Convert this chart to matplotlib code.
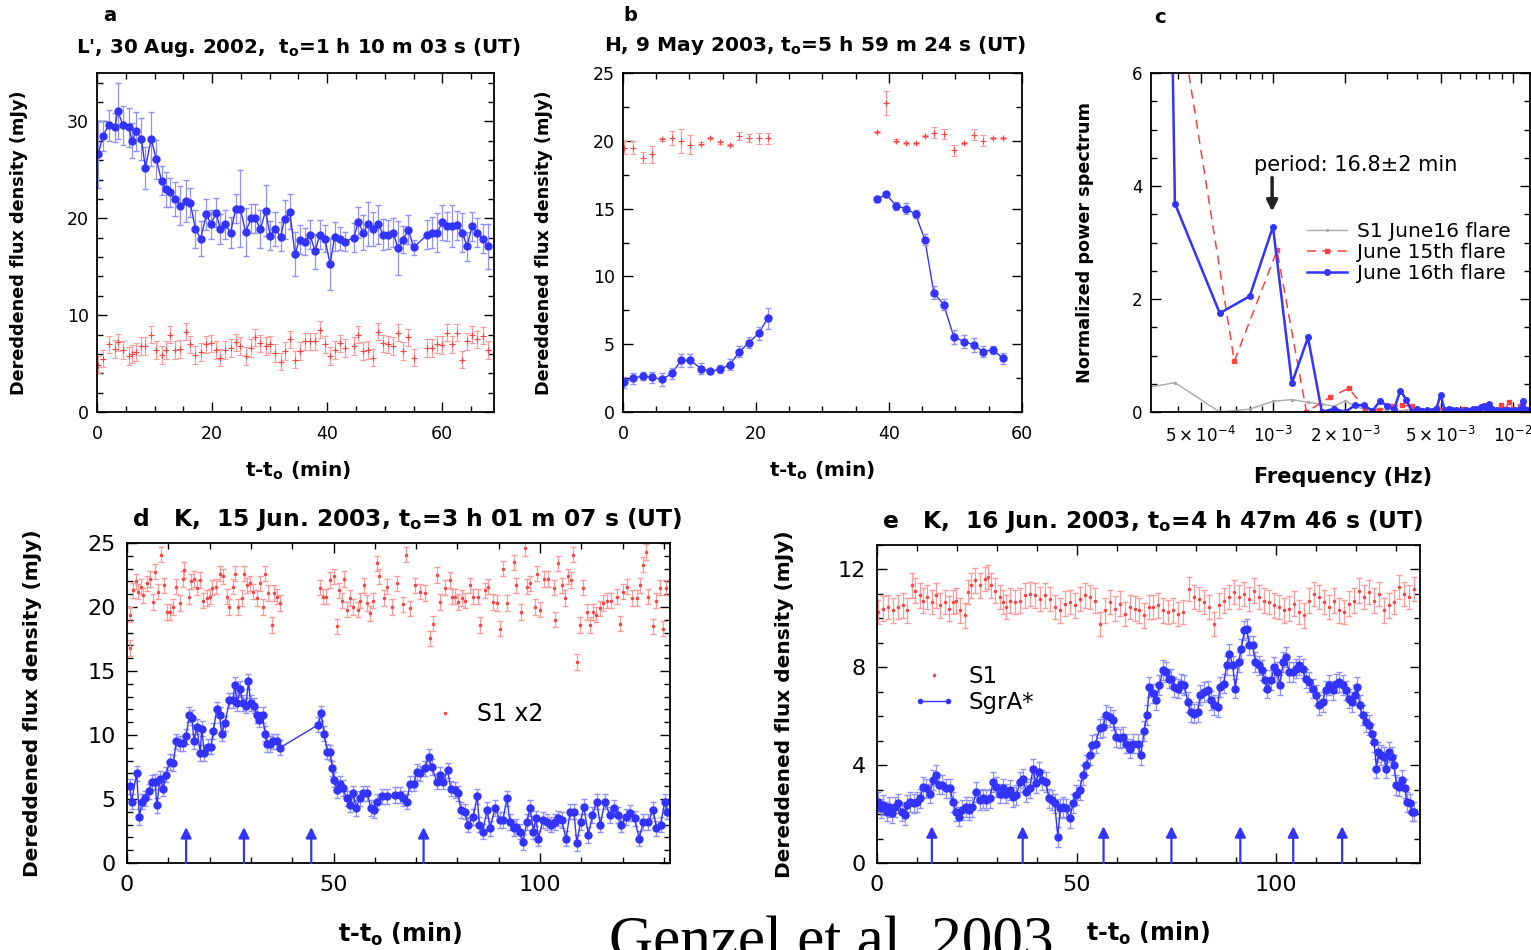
import numpy as np
import matplotlib
matplotlib.use('Agg')
import matplotlib.pyplot as plt
from matplotlib.ticker import MultipleLocator, FixedLocator, NullFormatter, LogLocator
from matplotlib.lines import Line2D
from matplotlib.legend_handler import HandlerLine2D

plt.rcParams['font.family'] = ['DejaVu Sans']
plt.rcParams['mathtext.default'] = 'regular'

BLUE = '#3333ff'
BLUE_ERR = '#9090ff'
RED = '#ff4040'
RED_ERR = '#ff9a9a'
GRAY = '#a8a8a8'

####################################################################################################
# DATA
####################################################################################################
# panel a: L', 30 Aug 2002
a_t = [0.2, 1.0, 2.0, 3.1, 3.6, 4.5, 5.5, 6.1, 6.8, 7.7,
       8.4, 9.4, 10.3, 11.2, 11.9, 12.6, 13.6, 14.5, 15.4, 16.2,
       17.1, 18.0, 19.0, 19.8, 20.7, 21.4, 22.3, 23.2, 24.1, 24.9,
       25.8, 26.8, 27.5, 28.4, 29.3, 30.1, 31.0, 31.9, 32.6, 33.5,
       34.4, 35.2, 36.1, 37.0, 37.9, 38.7, 39.6, 40.5, 41.3, 42.2,
       43.1, 44.6, 45.4, 46.3, 47.1, 48.0, 48.9, 49.7, 50.6, 51.5,
       52.3, 53.2, 54.1, 55.0, 57.4, 58.3, 59.1, 60.0, 60.9, 61.7,
       62.6, 63.5, 64.3, 65.2, 66.1, 67.0, 68.0]
a_sgra = [26.6, 28.5, 29.6, 29.4, 31.1, 29.6, 29.4, 28.0, 29.0, 28.2,
          25.2, 28.2, 26.1, 23.9, 23.0, 22.7, 22.0, 21.3, 21.8, 21.6,
          18.9, 17.9, 20.4, 19.4, 20.6, 18.9, 19.4, 18.5, 21.0, 21.0,
          18.6, 20.0, 20.0, 18.9, 20.8, 18.2, 18.9, 18.1, 19.9, 20.7,
          16.3, 17.8, 17.6, 18.3, 16.6, 18.3, 17.9, 15.3, 18.1, 17.9,
          17.6, 18.0, 19.6, 18.5, 19.4, 18.9, 19.4, 18.3, 18.3, 18.5,
          16.9, 17.8, 18.8, 17.0, 18.3, 18.5, 18.5, 19.6, 19.2, 19.2,
          19.3, 18.5, 17.1, 19.2, 18.5, 17.9, 17.1]
a_sgra_err = [3.5, 1.5, 1.6, 1.5, 2.9, 2.0, 2.0, 1.8, 2.0, 2.2,
              2.2, 2.8, 2.0, 1.5, 1.8, 1.5, 1.8, 2.0, 2.2, 1.5,
              2.0, 1.8, 1.6, 1.5, 1.5, 1.5, 1.5, 1.6, 1.5, 4.0,
              2.5, 1.5, 1.5, 2.0, 2.6, 1.5, 1.8, 1.5, 2.0, 1.8,
              2.3, 1.5, 1.4, 1.5, 1.8, 1.5, 1.4, 2.7, 1.5, 1.2,
              1.0, 1.5, 1.6, 1.8, 2.3, 1.8, 2.0, 1.6, 1.5, 1.5,
              2.8, 1.4, 1.5, 0.8, 1.5, 1.6, 2.0, 1.8, 1.5, 2.2,
              1.5, 2.0, 1.5, 1.5, 1.5, 1.5, 2.3]
a_s1 = [4.9, 5.5, 7.0, 6.5, 7.2, 6.4, 5.8, 6.0, 6.2, 6.8,
        6.8, 8.0, 6.4, 5.9, 6.4, 8.0, 6.4, 6.5, 8.3, 7.0,
        5.9, 6.2, 7.0, 7.1, 6.4, 5.6, 6.4, 6.6, 7.2, 6.8,
        5.8, 6.6, 7.7, 7.1, 6.8, 7.0, 6.1, 5.2, 6.3, 7.5,
        5.4, 6.3, 7.3, 7.3, 7.3, 8.5, 7.0, 5.8, 6.4, 7.1,
        6.6, 6.8, 8.0, 6.3, 6.4, 5.6, 8.3, 7.1, 7.0, 6.8,
        8.2, 6.3, 7.7, 5.6, 6.6, 6.6, 7.0, 6.9, 8.2, 7.0,
        8.2, 5.4, 7.3, 8.0, 7.5, 7.9, 6.4]
a_s1_err = 0.9

# panel b: H, 9 May 2003
b_t = [0.15, 1.5, 3.0, 4.4, 5.9, 7.35, 8.75, 10.15, 11.75, 13.1, 14.65, 16.1, 17.5, 18.9, 20.4, 21.75,
       38.15, 39.6, 41.1, 42.5, 44.0, 45.4, 46.75, 48.25, 49.75, 51.25, 52.75, 54.15, 55.65, 57.15]
b_sgra = [2.2, 2.5, 2.65, 2.55, 2.4, 2.85, 3.8, 3.8, 3.2, 3.0, 3.15, 3.5, 4.45, 5.1, 5.8, 6.9,
          15.7, 16.05, 15.2, 15.0, 14.6, 12.7, 8.8, 7.9, 5.55, 5.2, 4.95, 4.45, 4.6, 3.95]
b_sgra_err = [0.4, 0.4, 0.3, 0.4, 0.5, 0.4, 0.5, 0.5, 0.4, 0.2, 0.3, 0.4, 0.4, 0.4, 0.5, 0.8,
              0.2, 0.2, 0.3, 0.4, 0.3, 0.4, 0.5, 0.4, 0.5, 0.5, 0.5, 0.4, 0.3, 0.4]
b_s1 = [19.5, 19.5, 18.75, 19.0, 20.1, 20.2, 20.0, 19.7, 19.8, 20.2, 19.9, 19.7, 20.35, 20.2, 20.2, 20.2,
        20.65, 22.8, 20.0, 19.85, 19.85, 20.35, 20.6, 20.5, 19.3, 19.85, 20.45, 20.0, 20.2, 20.2]
b_s1_err = [0.5, 0.5, 0.4, 0.6, 0.1, 0.5, 0.9, 0.7, 0.1, 0.1, 0.1, 0.1, 0.3, 0.3, 0.4, 0.4,
            0.1, 0.9, 0.1, 0.1, 0.1, 0.1, 0.4, 0.4, 0.4, 0.1, 0.4, 0.4, 0.1, 0.1]

# panel c: power spectra (frequencies in mHz)
c_f16_mhz = [0.2, 0.39, 0.6, 0.8, 1.0, 1.2, 1.4, 1.6, 1.8, 2.0,
             2.2, 2.4, 2.6, 2.8, 3.0, 3.2, 3.4, 3.6, 3.8, 4.0,
             4.2, 4.4, 4.6, 4.8, 5.0, 5.2, 5.4, 5.6, 5.8, 6.0,
             6.2, 6.4, 6.6, 6.8, 7.0, 7.2, 7.4, 7.6, 7.8, 8.0,
             8.2, 8.4, 8.6, 8.8, 9.0, 9.2, 9.4, 9.6, 9.8, 10.0,
             10.2, 10.4, 10.6, 10.8, 11.0, 11.2, 11.4, 11.6, 11.8, 12.0]
c_p16 = [80.0, 3.69, 1.75, 2.05, 3.28, 0.51, 1.32, 0.0, 0.06, 0.0,
         0.12, 0.12, 0.02, 0.2, 0.1, 0.05, 0.38, 0.22, 0.0, 0.05,
         0.02, 0.03, 0.01, 0.05, 0.31, 0.03, 0.05, 0.04, 0.04, 0.02,
         0.0, 0.03, 0.02, 0.05, 0.06, 0.04, 0.08, 0.1, 0.06, 0.15,
         0.05, 0.02, 0.03, 0.01, 0.02, 0.04, 0.01, 0.03, 0.02, 0.01,
         0.03, 0.02, 0.04, 0.06, 0.2, 0.05, 0.03, 0.04, 0.02, 0.03]
c_s1 = [0.3, 0.52, 0.0, 0.05, 0.19, 0.22, 0.17, 0.14, 0.1, 0.2,
        0.1, 0.05, 0.04, 0.06, 0.03, 0.05, 0.02, 0.04, 0.03, 0.02,
        0.03, 0.02, 0.04, 0.02, 0.03, 0.02, 0.01, 0.03, 0.02, 0.04,
        0.02, 0.03, 0.02, 0.01, 0.02, 0.03, 0.02, 0.04, 0.02, 0.03,
        0.02, 0.01, 0.02, 0.03, 0.02, 0.01, 0.02, 0.03, 0.02, 0.02,
        0.03, 0.02, 0.01, 0.02, 0.03, 0.02, 0.01, 0.02, 0.02, 0.01]
c_f15_mhz = [0.35, 0.69, 1.04, 1.38, 1.73, 2.07, 2.42, 2.76, 3.11, 3.45,
             3.8, 4.14, 4.49, 4.83, 5.18, 5.52, 5.87, 6.21, 6.56, 6.9,
             7.25, 7.59, 7.94, 8.28, 8.63, 8.97, 9.32, 9.66, 10.0, 10.35,
             10.7, 11.04, 11.39, 11.73]
c_p15 = [8.8, 0.9, 2.86, 0.0, 0.26, 0.42, 0.07, 0.03, 0.1, 0.12,
         0.1, 0.03, 0.02, 0.07, 0.04, 0.02, 0.03, 0.06, 0.04, 0.05,
         0.03, 0.1, 0.08, 0.04, 0.03, 0.12, 0.05, 0.18, 0.05, 0.02,
         0.1, 0.15, 0.05, 0.03]
c_period_min = 16.8

# panel d: K, 15 Jun 2003
d_sgra_t = [0.6, 1.1, 2.3, 3.0, 3.6, 4.4, 5.2, 6.1, 6.8, 7.2,
            8.0, 8.8, 9.4, 10.3, 11.2, 11.9, 12.7, 13.5, 14.3, 15.1,
            15.7, 16.2, 16.9, 17.7, 18.1, 18.7, 19.5, 20.3, 20.9, 21.7,
            22.4, 22.9, 23.7, 24.8, 25.6, 26.1, 26.7, 27.4, 28.0, 28.8,
            29.4, 29.9, 30.8, 31.4, 32.0, 32.8, 33.4, 34.0, 34.6, 35.4,
            36.2, 37.0,
            46.3, 47.0, 47.7, 48.5, 49.2, 49.7, 50.2, 50.8, 51.6, 52.2,
            53.2, 54.0, 54.8, 55.4, 56.4, 57.2, 58.2, 59.0, 59.8, 60.5,
            61.7, 62.9,
            64.9, 66.1, 66.9, 67.7, 68.5, 69.5, 70.1, 70.9, 72.1, 73.0,
            73.8, 75.0, 75.8, 76.6, 77.6, 78.4, 79.4, 80.2, 80.8, 81.8,
            82.6, 83.8, 84.8, 85.3, 86.1, 87.2, 87.9, 89.1, 90.3, 91.0,
            92.0, 92.7, 93.7, 94.3, 95.2, 95.9, 96.8, 97.6, 98.4, 99.0,
            99.6, 100.7, 101.6, 102.6, 103.6, 104.4, 105.2, 106.3, 107.3, 108.2,
            108.9, 109.8, 110.6, 111.7, 112.7, 113.7, 114.6, 115.7, 116.9, 117.9,
            118.9, 119.7, 120.8, 121.9, 122.9, 124.0, 125.0, 126.2, 127.4, 128.2,
            129.2, 130.2, 130.8]
d_sgra = [6.0, 4.8, 7.0, 3.6, 4.8, 5.05, 5.6, 6.3, 6.35, 4.5,
          6.6, 5.8, 6.9, 7.9, 7.8, 9.5, 9.35, 9.35, 9.9, 11.6,
          11.35, 9.5, 10.65, 8.6, 10.5, 8.6, 9.1, 9.1, 10.3, 12.0,
          11.55, 10.1, 10.9, 12.7, 12.7, 13.9, 12.5, 13.6, 12.5, 12.3,
          14.2, 12.5, 12.3, 11.55, 11.2, 11.55, 10.1, 9.3, 9.3, 9.5,
          9.5, 9.0,
          10.8, 11.7, 10.1, 8.7, 8.65, 7.4, 6.5, 5.7, 6.2, 5.85,
          5.05, 4.55, 5.45, 4.3, 5.05, 5.45, 5.45, 4.3, 4.15, 4.8,
          5.2, 5.2,
          5.3, 5.3, 5.05, 4.8, 6.2, 6.2, 7.1, 7.0, 7.4, 8.3,
          7.5, 6.35, 6.9, 6.35, 7.25, 5.8, 5.7, 5.45, 4.15, 4.0,
          3.0, 3.6, 5.2, 3.0, 2.45, 4.15, 2.7, 4.3, 3.35, 3.35,
          5.05, 3.2, 2.7, 2.85, 2.45, 1.65, 3.2, 4.3, 2.45, 3.5,
          1.9, 3.35, 3.2, 3.0, 3.2, 3.5, 3.35, 1.9, 4.0, 4.0,
          1.55, 3.2, 4.4, 2.2, 3.75, 4.8, 3.0, 4.8, 3.75, 4.3,
          3.75, 3.0, 3.6, 3.9, 3.5, 1.9, 3.2, 3.2, 4.15, 2.7,
          3.0, 4.8, 4.0]
d_sgra_err = 0.6
d_s1_t = [0.6, 0.7, 1.5, 2.2, 2.7, 3.3, 3.9, 4.8, 5.6, 6.2,
          6.8, 7.6, 8.1, 9.0, 9.6, 10.4, 11.1, 11.9, 12.7, 13.5,
          13.9, 14.9, 15.4, 16.1, 16.9, 17.7, 18.5, 19.3, 20.1, 20.5,
          21.6, 22.5, 23.3, 24.1, 24.8, 25.6, 26.1, 26.9, 27.8, 28.3,
          29.0, 29.8, 30.6, 31.4, 32.2, 33.0, 33.4, 34.2, 35.0, 35.6,
          36.2, 37.0,
          46.6, 47.4, 48.2, 49.2, 50.1, 50.8, 51.4, 52.0, 52.5, 53.2,
          54.0, 54.8, 55.8, 56.4, 57.4, 58.0, 58.8, 59.5, 60.5, 61.1,
          62.1, 62.9, 64.1, 65.3,
          66.9, 67.6, 68.5, 69.7, 70.9, 72.2, 73.3, 74.2, 75.0, 75.8,
          77.0, 78.2, 78.6, 79.4, 80.2, 81.0, 81.8, 83.0, 83.8, 85.0,
          85.4, 86.7, 87.5, 88.7, 89.5, 90.3, 91.0, 92.0, 93.7, 94.1,
          95.3, 96.3, 96.8, 97.6, 98.8, 99.2, 100.0, 101.0, 102.0, 103.3,
          103.6, 104.4, 105.2, 106.0, 106.8, 107.6, 108.1, 108.9, 109.7, 110.3,
          111.3, 112.1, 112.9, 113.5, 114.5, 115.3, 116.1, 117.1, 118.6, 119.3,
          120.1, 121.1, 122.2, 123.4, 124.2, 125.0, 125.6, 126.2, 127.4, 128.2,
          129.0, 129.8, 130.6]
d_s1 = [16.8, 19.4, 21.3, 22.0, 21.2, 21.6, 20.9, 21.85, 22.2, 20.4,
        22.75, 21.2, 24.1, 21.7, 19.6, 19.6, 20.0, 21.6, 20.3, 22.2,
        22.9, 20.8, 22.0, 22.2, 21.5, 22.1, 20.5, 20.7, 20.8, 21.5,
        21.6, 22.6, 22.4, 20.8, 20.0, 21.6, 22.6, 20.0, 20.7, 22.6,
        21.7, 21.85, 21.2, 20.7, 21.85, 20.0, 22.6, 21.1, 18.6, 21.1,
        20.8, 20.3,
        21.5, 20.8, 20.8, 22.1, 22.4, 18.5, 21.3, 20.5, 22.2, 19.8,
        20.7, 20.0, 19.8, 20.5, 21.7, 20.3, 19.5, 20.5, 23.4, 22.4,
        20.7, 21.6, 20.0, 21.85,
        20.2, 24.1, 19.9, 21.7, 21.2, 21.1, 17.55, 18.7, 22.5, 20.4,
        21.5, 22.1, 20.8, 20.8, 20.4, 20.7, 20.5, 21.7, 20.8, 20.8,
        18.6, 21.3, 21.6, 20.4, 20.3, 18.3, 23.0, 20.3, 23.5, 21.7,
        19.6, 24.6, 21.6, 21.85, 20.0, 22.6, 19.8, 22.2, 22.2, 21.5,
        19.0, 23.4, 21.7, 20.7, 22.4, 22.1, 24.1, 15.7, 18.6, 21.5,
        19.6, 18.6, 19.6, 19.4, 19.9, 20.3, 20.5, 20.5, 20.8, 18.7,
        21.2, 21.6, 20.7, 20.7, 21.7, 23.3, 24.3, 20.8, 18.5, 20.5,
        21.5, 18.3, 21.5]
d_s1_err = 0.6
d_arrows = [14.3, 28.3, 44.6, 71.8]

# panel e: K, 16 Jun 2003
e_sgra_t = [0.3, 0.9, 1.6, 2.4, 3.1, 3.7, 4.5, 5.3, 6.2, 7.0,
            7.6, 8.4, 9.25, 10.1, 10.75, 11.6, 12.4, 13.25, 14.1, 14.75,
            15.6, 16.4, 17.25, 18.25, 19.1, 19.75, 20.6, 21.4, 22.25, 23.1,
            23.9, 24.9, 25.75, 26.6, 27.4, 28.25, 29.1, 29.9, 30.75, 31.6,
            32.4, 33.25, 34.1, 34.9, 35.9, 36.6, 37.4, 38.25, 39.1, 39.75,
            40.6, 41.4, 42.25, 43.1, 43.9, 44.5, 45.3, 45.9, 46.6, 47.4,
            48.25, 49.1, 49.9, 50.75, 51.6, 52.4, 53.25, 53.9, 54.75, 55.75,
            56.6, 57.4, 58.25, 59.1, 59.9, 60.75, 61.6, 62.4, 63.25, 64.1,
            65.3, 66.1, 66.9, 67.6,
            68.25, 69.1, 69.9, 70.75, 71.6, 72.4, 73.1, 73.7, 74.5, 75.3,
            76.2, 77.0, 77.8, 78.7, 79.5, 80.3, 81.0, 81.8, 82.8, 83.6,
            84.5, 85.3, 85.9, 86.8, 87.6, 88.25, 89.1, 89.75, 90.6, 91.25,
            92.0, 92.6, 93.25, 94.1, 94.75, 95.6, 96.4, 97.25, 97.8, 98.7,
            99.5, 100.3, 100.9, 101.75, 102.4, 103.25, 104.1, 104.9, 105.75, 106.6,
            107.4, 108.25, 109.1, 109.9, 110.75, 111.6, 112.4, 113.25, 114.1, 114.9,
            115.75, 116.6, 117.4, 118.25, 118.9, 119.75, 120.3, 120.9, 121.6, 122.4,
            123.25, 123.9, 124.5, 125.1, 125.6, 126.2, 127.0, 127.6, 128.25, 128.9,
            129.5, 130.1, 130.75, 131.6, 132.2, 132.75, 133.4, 134.0, 134.5]
e_sgra = [2.5, 2.23, 2.37, 2.1, 2.3, 2.03, 2.3, 2.44, 2.1, 1.96,
          2.37, 2.5, 2.44, 2.5, 2.64, 3.1, 3.05, 2.84, 3.4, 3.6,
          3.2, 3.2, 3.05, 3.05, 2.5, 2.1, 1.9, 2.16, 2.3, 2.16,
          2.3, 2.9, 2.57, 2.64, 2.57, 2.64, 3.32, 3.1, 2.84, 3.05,
          2.84, 2.98, 2.7, 2.78, 3.32, 3.45, 2.9, 3.05, 3.86, 3.25,
          3.73, 3.39, 3.32, 2.64, 2.57, 2.44, 1.07, 2.23, 2.3, 2.23,
          1.82, 2.44, 2.78, 2.98, 3.59, 4.0, 4.41, 4.82, 4.88, 5.5,
          5.56, 6.04, 5.97, 5.84, 5.16, 5.09, 5.16, 4.88, 4.68, 4.88,
          4.88, 4.41, 5.4, 6.04,
          7.2, 6.93, 6.65, 7.27, 7.88, 7.81, 7.54, 7.54, 7.2, 7.13,
          7.33, 7.27, 6.59, 6.18, 6.11, 6.18, 6.86, 6.99, 7.06, 6.65,
          6.45, 6.38, 7.2, 7.33, 8.08, 8.56, 8.08, 7.13, 8.22, 8.76,
          9.51, 9.58, 8.9, 8.9, 8.22, 8.08, 7.88, 7.47, 7.13, 7.47,
          8.01, 7.81, 7.27, 8.22, 8.42, 7.81, 7.81, 7.95, 8.08, 7.95,
          7.54, 7.4, 7.13, 6.86, 6.45, 6.59, 7.06, 7.27, 7.06, 7.33,
          7.4, 7.27, 7.06, 6.72, 6.59, 6.86, 7.2, 6.45, 6.04, 5.77,
          5.63, 5.29, 4.95, 3.86, 4.54, 4.41, 4.34, 3.86, 4.54, 4.34,
          4.0, 3.18, 3.12, 3.39, 3.05, 2.5, 2.44, 2.1, 2.1]
e_sgra_err = 0.4
e_s1_t = [0.33, 1.58, 2.83, 4.08, 5.33, 6.58, 7.58, 8.67, 9.5, 10.75,
          11.58, 12.58, 13.67, 14.75, 15.75, 17.0, 18.08, 19.08, 19.92, 20.75,
          22.0, 22.83, 23.67, 24.5, 25.75, 27.0, 27.83, 28.67, 29.5, 30.75,
          31.58, 32.42, 33.25, 34.5, 35.75, 37.0, 38.25, 39.5, 40.75, 42.0,
          43.25, 44.5, 45.75, 47.0, 48.25, 49.5, 50.75, 52.0, 53.25, 54.5,
          55.75, 57.0, 58.25, 59.5, 60.75, 62.0, 63.25, 64.5, 65.75, 67.0,
          68.08,
          69.1, 70.3, 71.6, 72.8, 74.1, 75.3, 76.6, 78.25, 79.5, 80.75,
          82.0, 83.25, 84.5, 85.75, 87.0, 88.25, 89.5, 90.75, 92.0, 93.25,
          94.5, 95.75, 97.0, 98.25, 99.5, 100.75, 102.0, 103.25, 104.5, 105.75,
          107.0, 108.25, 109.5, 110.75, 112.0, 113.25, 114.5, 115.75, 117.0, 118.25,
          119.5, 120.75, 122.0, 123.25, 124.5, 125.75, 127.0, 128.25, 129.5, 130.75,
          132.0, 133.25, 134.5]
e_s1 = [10.26, 10.4, 10.46, 10.33, 10.46, 10.53, 10.33, 11.35, 11.14, 10.94,
        10.73, 10.87, 10.67, 10.94, 10.53, 10.67, 10.4, 10.67, 10.73, 10.33,
        10.12, 11.07, 11.35, 11.55, 11.35, 11.62, 11.69, 11.35, 11.14, 10.87,
        10.67, 10.46, 10.73, 10.67, 10.73, 10.94, 11.0, 10.94, 10.8, 10.94,
        10.8, 10.46, 10.33, 10.6, 10.67, 10.53, 10.8, 10.94, 10.87, 10.73,
        9.78, 10.33, 10.67, 10.4, 10.6, 10.19, 10.46, 10.4, 10.33, 10.12,
        10.46,
        10.46, 10.53, 10.33, 10.26, 10.33, 10.19, 10.26, 11.21, 10.87, 10.8,
        10.67, 10.46, 9.78, 10.53, 10.73, 10.87, 11.07, 10.87, 11.0, 10.8,
        11.14, 10.87, 10.73, 10.67, 10.53, 10.46, 10.33, 10.4, 10.6, 10.26,
        10.12, 10.73, 11.0, 10.87, 10.67, 10.46, 10.73, 10.33, 10.26, 10.6,
        10.73, 11.14, 10.87, 11.07, 10.73, 11.0, 10.33, 10.53, 10.67, 11.28,
        11.0, 10.87, 11.21]
e_s1_err = 0.5
e_arrows = [13.75, 36.5, 56.75, 73.75, 91.0, 104.25, 116.5]


####################################################################################################
# HELPERS
####################################################################################################
def style_axes(ax, xmaj, xmin, ymaj, ymin, fs, xpad, ypad):
    if xmaj is not None:
        ax.xaxis.set_major_locator(MultipleLocator(xmaj))
        ax.xaxis.set_minor_locator(MultipleLocator(xmin))
    ax.yaxis.set_major_locator(MultipleLocator(ymaj))
    ax.yaxis.set_minor_locator(MultipleLocator(ymin))
    ax.tick_params(which='both', direction='in', top=True, right=True, labelsize=fs, width=1)
    ax.tick_params(which='major', length=7)
    ax.tick_params(which='minor', length=4)
    ax.tick_params(axis='x', pad=xpad)
    ax.tick_params(axis='y', pad=ypad)
    for s in ax.spines.values():
        s.set_linewidth(1.3)


def break_gaps(t, y, gap):
    t = np.asarray(t, float)
    y = np.asarray(y, float)
    idx = np.where(np.diff(t) > gap)[0] + 1
    return np.insert(t, idx, np.nan), np.insert(y, idx, np.nan)


def draw_arrows(ax, times, height):
    for t in times:
        ax.annotate('', xy=(t, height), xytext=(t, 0),
                    arrowprops=dict(arrowstyle='-|>', color=BLUE, lw=1.6, mutation_scale=16,
                                    shrinkA=0, shrinkB=0))


LBL = dict(fontweight='bold')

####################################################################################################
# FIGURE
####################################################################################################
fig = plt.figure(figsize=(15.31, 9.5), dpi=100)

ax_a = fig.add_axes([0.0634, 0.5663, 0.2593, 0.3568])
ax_b = fig.add_axes([0.4069, 0.5663, 0.2606, 0.3568])
ax_c = fig.add_axes([0.7518, 0.5663, 0.2475, 0.3568])
ax_d = fig.add_axes([0.0830, 0.0916, 0.3547, 0.3368])
ax_e = fig.add_axes([0.5728, 0.0916, 0.3547, 0.3347])

# ---------------- panel a
ax_a.errorbar(a_t, a_s1, yerr=a_s1_err, fmt='+', color=RED, ecolor=RED_ERR, ms=4,
              elinewidth=0.9, capsize=2, mew=0.8)
ax_a.errorbar(a_t, a_sgra, yerr=a_sgra_err, fmt='o-', color=BLUE, ecolor=BLUE_ERR, ms=5,
              lw=1.0, elinewidth=0.9, capsize=2.5)
ax_a.set_xlim(0, 69)
ax_a.set_ylim(0, 35)
style_axes(ax_a, 20, 5, 10, 2, 12.5, 9, 6)
ax_a.set_ylabel('Dereddened flux density (mJy)', fontsize=12.7, **LBL)
ax_a.yaxis.set_label_coords(-0.175, 0.5)
ax_a.set_xlabel('t-t$_o$ (min)', fontsize=14.5, **LBL)
ax_a.xaxis.set_label_coords(0.506, -0.14)
ax_a.text(0.506, 1.075, "L', 30 Aug. 2002,  t$_o$=1 h 10 m 03 s (UT)", transform=ax_a.transAxes,
          ha='center', va='center', fontsize=14.3, **LBL)

# ---------------- panel b
ax_b.errorbar(b_t, b_s1, yerr=b_s1_err, fmt='+', color=RED, ecolor=RED_ERR, ms=4,
              elinewidth=0.9, capsize=2, mew=0.8)
bt_line, bs_line = break_gaps(b_t, b_sgra, 8)
ax_b.plot(bt_line, bs_line, '-', color=BLUE, lw=1.0)
ax_b.errorbar(b_t, b_sgra, yerr=b_sgra_err, fmt='o', color=BLUE, ecolor=BLUE_ERR, ms=5,
              elinewidth=0.9, capsize=2.5)
ax_b.set_xlim(0, 60)
ax_b.set_ylim(0, 25)
style_axes(ax_b, 20, 5, 5, 2.5, 12.5, 9, 6)
ax_b.set_ylabel('Dereddened flux density (mJy)', fontsize=12.7, **LBL)
ax_b.yaxis.set_label_coords(-0.175, 0.5)
ax_b.set_xlabel('t-t$_o$ (min)', fontsize=14.5, **LBL)
ax_b.xaxis.set_label_coords(0.5, -0.14)
ax_b.text(0.48, 1.08, "H, 9 May 2003, t$_o$=5 h 59 m 24 s (UT)", transform=ax_b.transAxes,
          ha='center', va='center', fontsize=14.5, **LBL)

# ---------------- panel c
f16 = np.asarray(c_f16_mhz) * 1e-3
f15 = np.asarray(c_f15_mhz) * 1e-3
ax_c.plot(f16, c_s1, '-', color=GRAY, lw=1.0, marker='.', ms=3, label='S1 June16 flare')
ax_c.plot(f15, c_p15, '--', color=RED, lw=1.1, marker='s', ms=3, dashes=(6, 4),
          label='June 15th flare')
ax_c.plot(f16, c_p16, '-', color=BLUE, lw=1.8, marker='o', ms=4, label='June 16th flare')
ax_c.set_xscale('log')
ax_c.set_xlim(3.1e-4, 1.18e-2)
ax_c.set_ylim(0, 6)
style_axes(ax_c, None, None, 2, 0.5, 12, 10, 6)
ax_c.xaxis.set_major_locator(FixedLocator([5e-4, 1e-3, 2e-3, 5e-3, 1e-2]))
ax_c.set_xticklabels([r'$5\times10^{-4}$', r'$10^{-3}$', r'$2\times10^{-3}$',
                      r'$5\times10^{-3}$', r'$10^{-2}$'])
ax_c.xaxis.set_minor_locator(LogLocator(base=10, subs=np.arange(1, 10)))
ax_c.xaxis.set_minor_formatter(NullFormatter())
ax_c.set_ylabel('Normalized power spectrum', fontsize=12.7, **LBL)
ax_c.yaxis.set_label_coords(-0.15, 0.5)
ax_c.set_xlabel('Frequency (Hz)', fontsize=15, **LBL)
ax_c.xaxis.set_label_coords(0.507, -0.162)
f_period = 1.0 / (c_period_min * 60.0)
ax_c.annotate('', xy=(f_period, 3.55), xytext=(f_period, 4.15),
              arrowprops=dict(arrowstyle='-|>', color='#222222', lw=2.5, mutation_scale=16,
                              shrinkA=0, shrinkB=0))
ax_c.text(0.54, 0.728, 'period: 16.8±2 min', transform=ax_c.transAxes, ha='center',
          va='center', fontsize=15)
ax_c.legend(loc='upper left', bbox_to_anchor=(0.39, 0.585), frameon=False, fontsize=14.5,
            handlelength=2.0, handletextpad=0.5, labelspacing=0.1, borderaxespad=0)

# ---------------- panel d
ax_d.errorbar(d_s1_t, d_s1, yerr=d_s1_err, fmt='.', color=RED, ecolor=RED_ERR, ms=3,
              elinewidth=0.9, capsize=2)
ax_d.errorbar(d_sgra_t, d_sgra, yerr=d_sgra_err, fmt='o-', color=BLUE, ecolor=BLUE_ERR, ms=5,
              lw=1.0, elinewidth=0.9, capsize=2)
draw_arrows(ax_d, d_arrows, 2.8)
ax_d.set_xlim(0, 131.5)
ax_d.set_ylim(0, 25)
style_axes(ax_d, 50, 10, 5, 1, 16, 9, 8)
ax_d.set_ylabel('Dereddened flux density (mJy)', fontsize=14.5, **LBL)
ax_d.yaxis.set_label_coords(-0.157, 0.5)
ax_d.set_xlabel('t-t$_o$ (min)', fontsize=17, **LBL)
ax_d.xaxis.set_label_coords(0.503, -0.18)
ax_d.text(0.515, 1.075, "d   K,  15 Jun. 2003, t$_o$=3 h 01 m 07 s (UT)", transform=ax_d.transAxes,
          ha='center', va='center', fontsize=16.8, **LBL)
s1_proxy = Line2D([], [], ls='none', marker='.', ms=3, color=RED)
ax_d.legend([s1_proxy], ['S1 x2'], loc='center left', bbox_to_anchor=(0.535, 0.466),
            frameon=False, fontsize=17, handlelength=1.5, handletextpad=0.6, borderaxespad=0)

# ---------------- panel e
ax_e.errorbar(e_s1_t, e_s1, yerr=e_s1_err, fmt='.', color=RED, ecolor=RED_ERR, ms=3,
              elinewidth=0.9, capsize=2)
ax_e.errorbar(e_sgra_t, e_sgra, yerr=e_sgra_err, fmt='o-', color=BLUE, ecolor=BLUE_ERR, ms=5,
              lw=1.0, elinewidth=0.9, capsize=2)
draw_arrows(ax_e, e_arrows, 1.5)
ax_e.set_xlim(0, 136)
ax_e.set_ylim(0, 13)
style_axes(ax_e, 50, 10, 4, 1, 16, 9, 8)
ax_e.set_ylabel('Dereddened flux density (mJy)', fontsize=14.5, **LBL)
ax_e.yaxis.set_label_coords(-0.153, 0.5)
ax_e.set_xlabel('t-t$_o$ (min)', fontsize=17, **LBL)
ax_e.xaxis.set_label_coords(0.499, -0.18)
ax_e.text(0.507, 1.075, "e   K,  16 Jun. 2003, t$_o$=4 h 47m 46 s (UT)", transform=ax_e.transAxes,
          ha='center', va='center', fontsize=16.8, **LBL)
sgra_proxy = Line2D([], [], ls='-', marker='o', ms=3, color=BLUE, lw=1.0)
ax_e.legend([s1_proxy, sgra_proxy], ['S1', 'SgrA*'], loc='upper left', bbox_to_anchor=(0.05, 0.65),
            frameon=False, fontsize=16.5, handlelength=1.8, handletextpad=0.6, labelspacing=0.1,
            borderaxespad=0, numpoints=2, handler_map={s1_proxy: HandlerLine2D(numpoints=1)})

# ---------------- panel letters and reference
fig.text(0.0718, 0.984, 'a', fontsize=14, fontweight='bold', ha='center', va='center')
fig.text(0.412, 0.984, 'b', fontsize=14, fontweight='bold', ha='center', va='center')
fig.text(0.7577, 0.982, 'c', fontsize=14, fontweight='bold', ha='center', va='center')
fig.text(0.543, -0.009, 'Genzel et al. 2003', fontsize=44, family='Liberation Serif',
         ha='center', va='baseline')

fig.savefig('out.png', dpi=100)
